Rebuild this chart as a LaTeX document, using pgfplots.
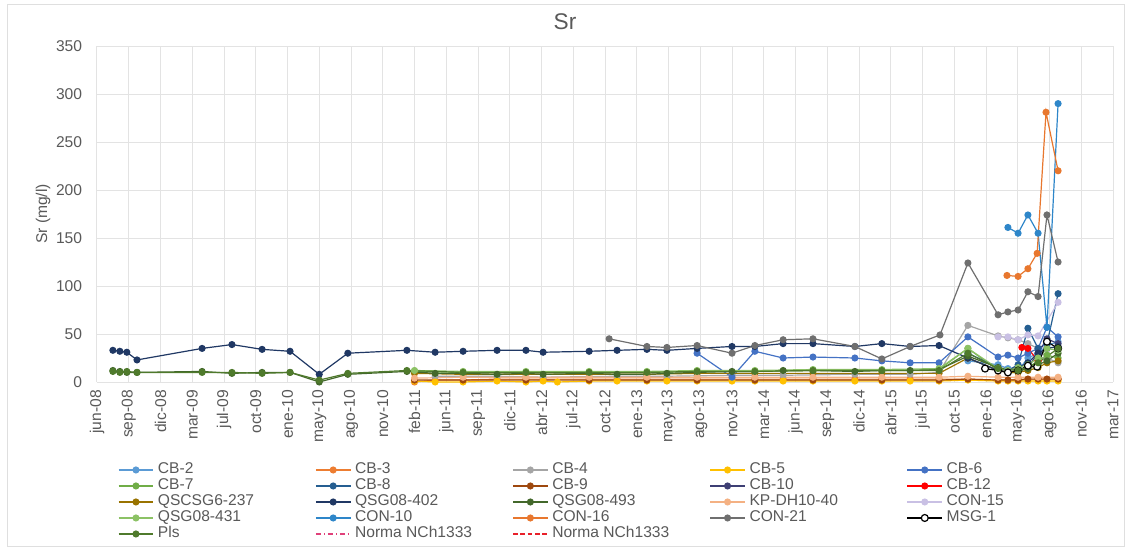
\documentclass[border=0pt]{standalone}
\usepackage{fontspec}
\setmainfont{Liberation Sans}
\usepackage{pgfplots}
\pgfplotsset{compat=1.18}
\definecolor{tickgray}{HTML}{595959}
\definecolor{gridc}{HTML}{E3E3E3}
\definecolor{cCBtwo}{HTML}{5B9BD5}
\definecolor{cCBthree}{HTML}{ED7D31}
\definecolor{cCBfour}{HTML}{A5A5A5}
\definecolor{cCBfive}{HTML}{FFC000}
\definecolor{cCBsix}{HTML}{4472C4}
\definecolor{cCBseven}{HTML}{70AD47}
\definecolor{cCBeight}{HTML}{255E91}
\definecolor{cCBnine}{HTML}{9E480E}
\definecolor{cCBten}{HTML}{3E3F74}
\definecolor{cCBtwelve}{HTML}{FF0000}
\definecolor{cQSCSG}{HTML}{997300}
\definecolor{cQfourzerotwo}{HTML}{203864}
\definecolor{cQfournine}{HTML}{43682B}
\definecolor{cKP}{HTML}{F4B183}
\definecolor{cCONfifteen}{HTML}{C9C0E4}
\definecolor{cQfourthree}{HTML}{8CC265}
\definecolor{cCONten}{HTML}{2E86C9}
\definecolor{cCONsixteen}{HTML}{E8772E}
\definecolor{cCONtwentyone}{HTML}{6F6F6F}
\definecolor{cPls}{HTML}{4F7A2C}
\definecolor{cNormA}{HTML}{E0407A}
\definecolor{cNormB}{HTML}{E8202A}
\newcommand{\lgE}[1]{\makebox[121pt][l]{\hspace{3pt}#1}}
\begin{document}
\begin{tikzpicture}
\path[use as bounding box] (0pt,0pt) rectangle (848.25pt,412.5pt);
\draw[gray!25, line width=0.75pt] (5.25pt,3pt) rectangle (843pt,408.75pt);
\node[font=\fontsize{17}{20}\selectfont, text=tickgray] at (423.75pt,396pt) {Sr};
\begin{axis}[
  at={(72.75pt,126pt)}, anchor=south west,
  scale only axis, width=762pt, height=252pt,
  xmin=0, xmax=3200, ymin=0, ymax=350,
  xtick={0,100,...,3200},
  xticklabels={jun-08,sep-08,dic-08,mar-09,jul-09,oct-09,ene-10,may-10,ago-10,nov-10,feb-11,jun-11,sep-11,dic-11,abr-12,jul-12,oct-12,ene-13,may-13,ago-13,nov-13,mar-14,jun-14,sep-14,dic-14,abr-15,jul-15,oct-15,ene-16,may-16,ago-16,nov-16,mar-17},
  ytick={0,50,...,350},
  grid=major, major grid style={gridc, line width=0.75pt},
  major tick length=0pt,
  axis line style={draw=none},
  /pgf/number format/assume math mode=true,
  ticklabel style={font=\fontsize{11.7}{13}\selectfont, text=tickgray},
  xticklabel shift=6pt,
  xticklabel style={rotate=90, anchor=east, inner sep=0pt},
  yticklabel style={anchor=east, inner sep=0pt, xshift=-11pt},
  ylabel={Sr (mg/l)},
  ylabel style={at={(axis description cs:-0.0531,0.5)}, anchor=center, rotate=0, font=\fontsize{11.7}{13}\selectfont, text=tickgray},
  every axis plot/.append style={line width=0.9pt, mark size=2.2pt},
  legend columns=5,
  legend cell align=left,
  legend style={at={(axis description cs:0.0207,-0.238)}, anchor=north west, draw=none, fill=none, inner sep=0pt, outer sep=0pt,
     font=\fontsize{11.7}{13}\selectfont, text=tickgray, row sep=0pt, column sep=0pt,
     nodes={inner sep=0pt, text height=8.8pt, text depth=3.2pt}},
  legend image code/.code={\draw[mark repeat=2,mark phase=2] plot coordinates {(0pt,0pt) (13pt,0pt) (26pt,0pt)};},
]
% CB-2
\addplot[cCBtwo, mark=*, mark options={fill=cCBtwo}] coordinates {(2743,22)(2838,18)(2869,14)(2901,12)(2932,25)(2964,30)(2992,38)(3027,42)};
\addlegendentry{\lgE{CB-2}}
% CB-3
\addplot[cCBthree, mark=*, mark options={fill=cCBthree}] coordinates {(1000,0)(1065,2)(1153,2)(1260,3)(1351,3)(1405,3)(1550,3)(1638,3)(1732,3)(1795,3)(1890,3)(2000,3)(2072,3)(2161,3)(2255,3)(2387,3)(2472,3)(2561,3)(2652,3)(2743,3)(2838,2)(2869,2)(2901,3)(2932,3)(2964,3)(2992,3)(3027,3)};
\addlegendentry{\lgE{CB-3}}
% CB-4
\addplot[cCBfour, mark=*, mark options={fill=cCBfour}] coordinates {(1065,6)(1260,6)(1405,5)(1638,6)(1795,6)(2000,7)(2161,7)(2387,8)(2561,8)(2652,10)(2743,59)(2838,48)(2869,46)(2901,44)(2932,40)(2964,35)(2992,25)(3027,20)};
\addlegendentry{\lgE{CB-4}}
% CB-5
\addplot[cCBfive, mark=*, mark options={fill=cCBfive}] coordinates {(1000,1)(1065,0)(1153,0)(1260,1)(1351,0)(1405,1)(1450,0)(1550,1)(1638,1)(1732,1)(1795,1)(1890,1)(2000,1)(2072,1)(2161,1)(2255,1)(2387,1)(2472,1)(2561,1)(2652,1)(2743,2)(2838,1)(2869,1)(2901,1)(2932,1)(2964,1)(2992,1)(3027,1)};
\addlegendentry{\lgE{CB-5}}
% CB-6
\addplot[cCBsix, mark=*, mark options={fill=cCBsix}] coordinates {(1890,30)(2000,5)(2072,32)(2161,25)(2255,26)(2387,25)(2472,22)(2561,20)(2652,20)(2743,47)(2838,26)(2869,28)(2901,25)(2932,30)(2964,35)(2992,57)(3027,47)};
\addlegendentry{\lgE{CB-6}}
% CB-7
\addplot[cCBseven, mark=*, mark options={fill=cCBseven}] coordinates {(1000,11)(1153,10)(1351,10)(1550,10)(1732,10)(1890,11)(2072,11)(2255,12)(2472,12)(2652,13)(2743,35)(2838,12)(2869,10)(2901,10)(2932,15)(2964,22)(2992,28)(3027,25)};
\addlegendentry{\lgE{CB-7}}
% CB-8
\addplot[cCBeight, mark=*, mark options={fill=cCBeight}] coordinates {(2743,30)(2838,15)(2869,12)(2901,18)(2932,56)(2964,35)(2992,40)(3027,92)};
\addlegendentry{\lgE{CB-8}}
% CB-9
\addplot[cCBnine, mark=*, mark options={fill=cCBnine}] coordinates {(1000,2)(1153,2)(1351,2)(1550,2)(1732,2)(1890,2)(2072,2)(2255,2)(2472,2)(2652,2)(2743,3)(2838,2)(2869,2)(2901,2)(2932,3)(2964,3)(2992,3)(3027,3)};
\addlegendentry{\lgE{CB-9}}
% CB-10
\addplot[cCBten, mark=*, mark options={fill=cCBten}] coordinates {(2743,25)(2838,12)(2869,10)(2901,11)(2932,15)(2964,30)(2992,45)(3027,40)};
\addlegendentry{\lgE{CB-10}}
% CB-12
\addplot[cCBtwelve, mark=*, mark options={fill=cCBtwelve}] coordinates {(2913,36)(2932,35)(2964,22)};
\addlegendentry{\lgE{CB-12}}
% QSCSG6-237
\addplot[cQSCSG, mark=*, mark options={fill=cQSCSG}] coordinates {(1000,9)(1153,8)(1351,8)(1550,8)(1732,8)(1890,9)(2072,9)(2255,9)(2472,9)(2652,9)(2743,25)(2838,12)(2869,10)(2901,10)(2932,12)(2964,15)(2992,20)(3027,22)};
\addlegendentry{\lgE{QSCSG6-237}}
% QSG08-402
\addplot[cQfourzerotwo, mark=*, mark options={fill=cQfourzerotwo}] coordinates {(50,33)(72,32)(94,31)(126,23)(331,35)(425,39)(520,34)(608,32)(700,8)(790,30)(976,33)(1065,31)(1153,32)(1260,33)(1351,33)(1405,31)(1550,32)(1638,33)(1732,34)(1795,33)(1890,35)(2000,37)(2072,37)(2161,40)(2255,40)(2387,37)(2472,40)(2561,37)(2652,38)(2743,25)(2838,12)(2901,15)(2932,20)(2964,30)(2992,35)(3027,37)};
\addlegendentry{\lgE{QSG08-402}}
% QSG08-493
\addplot[cQfournine, mark=*, mark options={fill=cQfournine}] coordinates {(50,12)(72,11)(94,10)(126,10)(331,11)(425,9)(520,10)(608,10)(700,0)(790,8)(976,11)(1065,9)(1153,9)(1260,8)(1351,9)(1405,8)(1550,9)(1638,8)(1732,8)(1795,9)(1890,10)(2000,11)(2072,11)(2161,12)(2255,12)(2387,11)(2472,12)(2561,12)(2652,13)(2743,27)(2838,15)(2901,12)(2932,14)(2964,18)(2992,22)(3027,30)};
\addlegendentry{\lgE{QSG08-493}}
% KP-DH10-40
\addplot[cKP, mark=*, mark options={fill=cKP}] coordinates {(1000,4)(1153,5)(1351,5)(1550,5)(1732,5)(1890,5)(2072,5)(2255,5)(2472,5)(2652,5)(2743,6)(2838,5)(2901,5)(2964,5)(3027,5)};
\addlegendentry{\lgE{KP-DH10-40}}
% CON-15
\addplot[cCONfifteen, mark=*, mark options={fill=cCONfifteen}] coordinates {(2838,47)(2869,47)(2901,44)(2932,49)(2964,48)(3027,83)};
\addlegendentry{\lgE{CON-15}}
% QSG08-431
\addplot[cQfourthree, mark=*, mark options={fill=cQfourthree}] coordinates {(1000,12)(1153,11)(1351,11)(1550,11)(1732,11)(1890,12)(2072,12)(2255,13)(2472,13)(2652,14)(2743,35)(2838,14)(2869,12)(2901,15)(2932,18)(2964,25)(2992,35)(3027,33)};
\addlegendentry{\lgE{QSG08-431}}
% CON-10
\addplot[cCONten, mark=*, mark options={fill=cCONten}] coordinates {(2869,161)(2901,155)(2932,174)(2964,155)(2992,57)(3027,290)};
\addlegendentry{\lgE{CON-10}}
% CON-16
\addplot[cCONsixteen, mark=*, mark options={fill=cCONsixteen}] coordinates {(2866,111)(2901,110)(2932,118)(2961,134)(2989,281)(3027,220)};
\addlegendentry{\lgE{CON-16}}
% CON-21
\addplot[cCONtwentyone, mark=*, mark options={fill=cCONtwentyone}] coordinates {(1613,45)(1732,37)(1795,36)(1890,38)(2000,30)(2072,38)(2161,44)(2255,45)(2387,37)(2472,24)(2561,37)(2655,49)(2743,124)(2838,70)(2869,73)(2901,75)(2932,94)(2964,89)(2992,174)(3027,125)};
\addlegendentry{\lgE{CON-21}}
% MSG-1
\addplot[black, mark=*, mark options={fill=white, draw=black}, mark size=2.6pt] coordinates {(2797,14)(2838,12)(2869,10)(2901,12)(2932,17)(2961,16)(2992,42)(3027,35)};
\addlegendentry{\lgE{MSG-1}}
% Pls
\addplot[cPls, mark=*, mark options={fill=cPls}] coordinates {(50,11)(72,10)(94,11)(126,10)(331,10)(425,10)(520,9)(608,10)(700,2)(790,9)(976,12)(1153,10)(1351,10)(1550,10)(1732,10)(1890,11)(2072,11)(2255,12)(2472,12)(2652,12)(2743,30)(2838,14)(2901,12)(2964,20)(3027,35)};
\addlegendentry{\lgE{Pls}}
\addlegendimage{cNormA, dash pattern=on 4pt off 2pt on 1pt off 2pt, line width=0.9pt}
\addlegendentry{\lgE{Norma NCh1333}}
\addlegendimage{cNormB, dash pattern=on 3.5pt off 2pt, line width=0.9pt}
\addlegendentry{\lgE{Norma NCh1333}}
\end{axis}
\end{tikzpicture}
\end{document}
